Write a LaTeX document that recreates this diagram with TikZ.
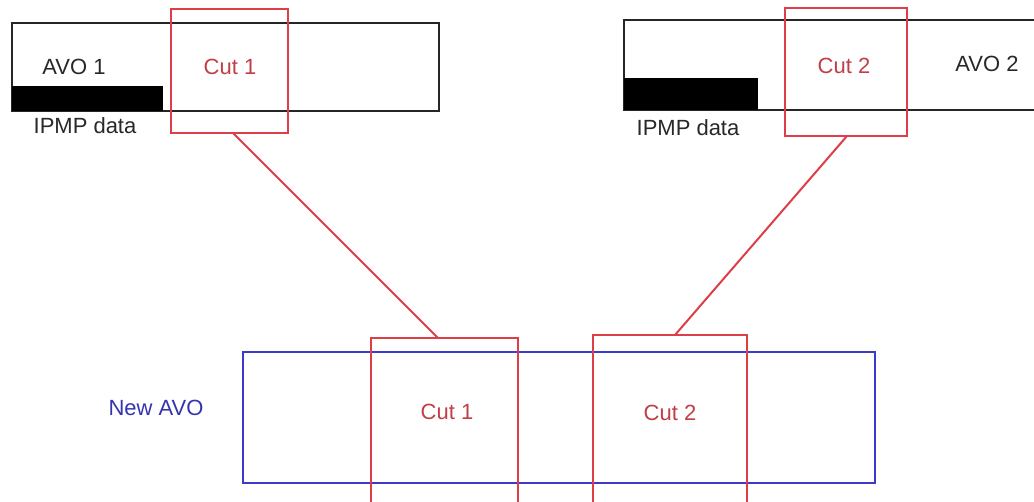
\documentclass[tikz,border=0pt]{standalone}
\usepackage{fontspec}
\setmainfont{Liberation Sans}
\definecolor{cutred}{RGB}{222,62,72}
\definecolor{cuttext}{RGB}{192,62,68}
\definecolor{avoblue}{RGB}{60,58,205}
\definecolor{bluetext}{RGB}{52,52,175}
\definecolor{avotext}{RGB}{40,40,40}
\begin{document}
\begin{tikzpicture}[x=1pt,y=-1pt,
  every node/.style={inner sep=0pt,outer sep=0pt},
  avobox/.style={draw=black!85,line width=2pt,rectangle},
  bar/.style={fill=black,rectangle},
  cutbox/.style={draw=cutred,line width=2pt,rectangle},
  newbox/.style={draw=avoblue,line width=2pt,rectangle},
  lbl/.style={text=avotext,font=\fontsize{22}{26}\selectfont},
  cutlbl/.style={text=cuttext,font=\fontsize{22}{26}\selectfont},
  bluelbl/.style={text=bluetext,font=\fontsize{22}{26}\selectfont},
  link/.style={draw=cutred,line width=2pt}]
\useasboundingbox (0,0) rectangle (1034,502);
\clip (0,0) rectangle (1034,502);
% top left AVO 1
\node[avobox,minimum width=427pt,minimum height=88pt] (avo1) at (225.5,67) {};
\node[bar,minimum width=151pt,minimum height=25pt] (bar1) at (87.5,98.5) {};
\node[cutbox,minimum width=117pt,minimum height=124pt] (c1) at (229.5,71) {};
\node[lbl] (avo1t) at (74,67) {AVO 1};
\node[lbl] (ipmp1) at (85,126) {IPMP data};
\node[cutlbl] (c1t) at (230,67) {Cut 1};
% top right AVO 2
\node[avobox,minimum width=430pt,minimum height=90pt] (avo2) at (839,65) {};
\node[bar,minimum width=134pt,minimum height=32pt] (bar2) at (691,94) {};
\node[cutbox,minimum width=122pt,minimum height=128pt] (c2) at (846,72) {};
\node[lbl] (avo2t) at (987,64) {AVO 2};
\node[lbl] (ipmp2) at (688,128) {IPMP data};
\node[cutlbl] (c2t) at (844,66) {Cut 2};
% bottom New AVO
\node[newbox,minimum width=632pt,minimum height=131pt] (new) at (559,417.5) {};
\node[cutbox,minimum width=147pt,minimum height=180pt] (n1) at (444.5,428) {};
\node[cutbox,minimum width=154pt,minimum height=180pt] (n2) at (670,425) {};
\node[bluelbl] (newt) at (156,408) {New AVO};
\node[cutlbl] (n1t) at (447,412) {Cut 1};
\node[cutlbl] (n2t) at (670,413) {Cut 2};
% connectors
\draw[link] ([xshift=3.5pt]c1.south) -- ([xshift=-6.5pt]n1.north);
\draw[link] ([xshift=1pt]c2.south) -- ([xshift=5pt]n2.north);
\end{tikzpicture}
\end{document}
